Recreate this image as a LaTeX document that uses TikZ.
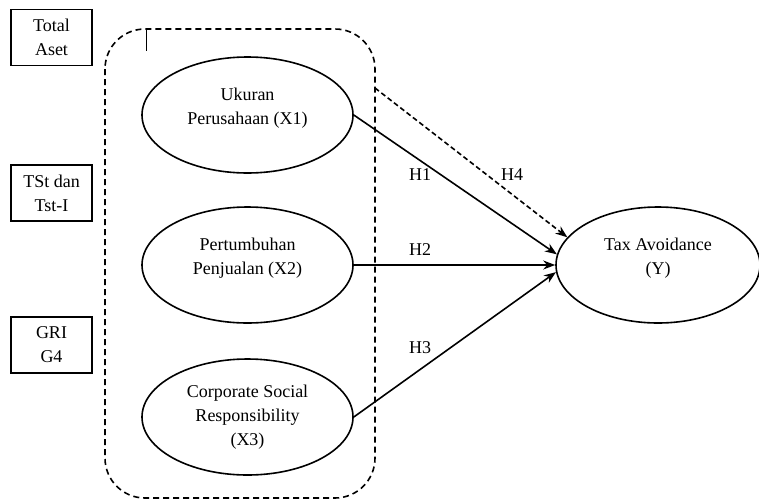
\documentclass[tikz,border=0pt]{standalone}
\usepackage{fontspec}
\setmainfont{Liberation Serif}
\usetikzlibrary{arrows.meta,shapes.geometric}
\begin{document}
\begin{tikzpicture}[x=1pt,y=-1pt,
				font=\fontsize{18}{24}\selectfont,
				latent/.style={ellipse,draw,line width=1.6pt,minimum width=211pt,minimum height=116pt,inner sep=0pt},
				teks/.style={align=center,inner sep=1pt},
				indikator/.style={rectangle,draw,line width=1.6pt,minimum width=81pt,minimum height=56pt,align=center},
				panah/.style={-{Stealth[length=12pt,width=9pt]},line width=1.6pt},
				putus/.style={dash pattern=on 6pt off 4pt,line width=1.6pt}]
\useasboundingbox (0,0) rectangle (759,501);
\node[indikator] (aset) at (51.5,37.5) {Total\\Aset};
\node[indikator] (tst) at (51.5,193) {TSt dan\\Tst-I};
\node[indikator] (gri) at (51.5,345) {GRI\\G4};
\draw[putus,rounded corners=40pt] (105,29) rectangle (375,498);
\draw[line width=0.7pt] (146,29) -- (146,51);
\node[latent] (x1) at (247.5,115) {};
\node[latent] (x2) at (247.5,265) {};
\node[latent] (x3) at (247.5,417) {};
\node[latent,minimum width=204pt] (y) at (658,265) {};
\node[teks] (tx1) at (247.5,108) {Ukuran\\Perusahaan (X1)};
\node[teks] (tx2) at (247.5,258) {Pertumbuhan\\Penjualan (X2)};
\node[teks] (tx3) at (247.5,417) {Corporate Social\\Responsibility\\(X3)};
\node[teks] (ty) at (658,258) {Tax Avoidance\\(Y)};
\coordinate (h4) at (375,88);
\draw[panah] (x1.east) -- (y.174);
\draw[panah] (x2.east) -- (y.west);
\draw[panah] (x3.east) -- (y.184);
\draw[panah,dash pattern=on 5pt off 3pt] (h4) -- (y.163);
\node (l1) at (420,175) {H1};
\node (l4) at (512,175) {H4};
\node (l2) at (420,250) {H2};
\node (l3) at (420,348) {H3};
\end{tikzpicture}
\end{document}
